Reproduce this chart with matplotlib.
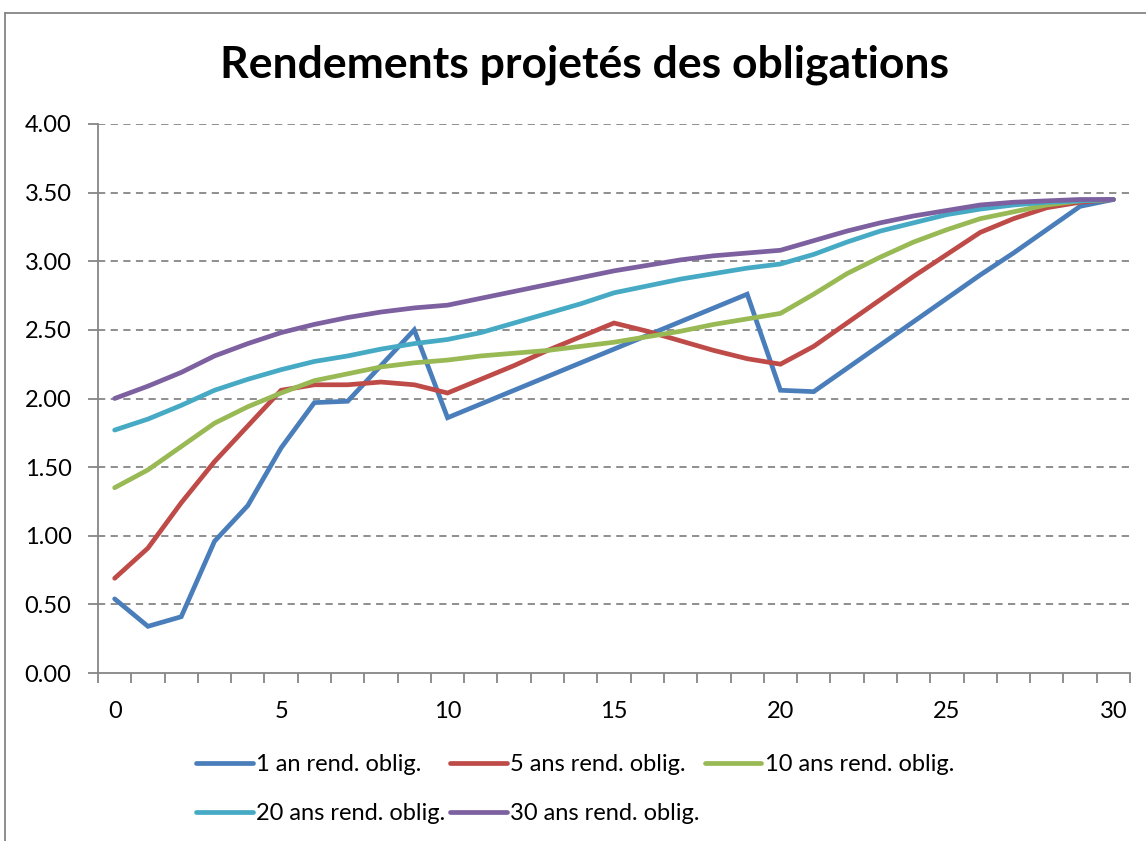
import matplotlib
matplotlib.use("Agg")
import matplotlib.pyplot as plt
from matplotlib.lines import Line2D
import numpy as np

plt.rcParams['font.family'] = ['Lato', 'DejaVu Sans']

years = list(range(31))
y1 = [0.54, 0.34, 0.41, 0.96, 1.22, 1.64, 1.97, 1.98, 2.24, 2.50, 1.86,
      1.96, 2.06, 2.16, 2.26, 2.36, 2.46, 2.56, 2.66, 2.76, 2.06,
      2.05, 2.22, 2.39, 2.56, 2.73, 2.90, 3.06, 3.23, 3.40, 3.45]
y5 = [0.69, 0.91, 1.24, 1.54, 1.80, 2.06, 2.10, 2.10, 2.12, 2.10, 2.04,
      2.14, 2.24, 2.35, 2.45, 2.55, 2.49, 2.42, 2.35, 2.29, 2.25,
      2.38, 2.55, 2.72, 2.89, 3.05, 3.21, 3.31, 3.39, 3.43, 3.45]
y10 = [1.35, 1.48, 1.65, 1.82, 1.94, 2.04, 2.13, 2.18, 2.23, 2.26, 2.28,
       2.31, 2.33, 2.35, 2.38, 2.41, 2.45, 2.49, 2.54, 2.58, 2.62,
       2.76, 2.91, 3.03, 3.14, 3.23, 3.31, 3.36, 3.41, 3.44, 3.45]
y20 = [1.77, 1.85, 1.95, 2.06, 2.14, 2.21, 2.27, 2.31, 2.36, 2.40, 2.43,
       2.48, 2.55, 2.62, 2.69, 2.77, 2.82, 2.87, 2.91, 2.95, 2.98,
       3.05, 3.14, 3.22, 3.28, 3.34, 3.38, 3.41, 3.43, 3.44, 3.45]
y30 = [2.00, 2.09, 2.19, 2.31, 2.40, 2.48, 2.54, 2.59, 2.63, 2.66, 2.68,
       2.73, 2.78, 2.83, 2.88, 2.93, 2.97, 3.01, 3.04, 3.06, 3.08,
       3.15, 3.22, 3.28, 3.33, 3.37, 3.41, 3.43, 3.44, 3.45, 3.45]

labels = ['1 an rend. oblig.', '5 ans rend. oblig.', '10 ans rend. oblig.',
          '20 ans rend. oblig.', '30 ans rend. oblig.']
colors = ['#4A7EBB', '#BE4B48', '#98B954', '#46AAC5', '#7D60A0']
series = [y1, y5, y10, y20, y30]
yticks = [0.0, 0.5, 1.0, 1.5, 2.0, 2.5, 3.0, 3.5, 4.0]
xticks = [0, 5, 10, 15, 20, 25, 30]
title = 'Rendements projetés des obligations'

W, H = 1146, 841
fig = plt.figure(figsize=(W/100, H/100), dpi=100)
ax = fig.add_axes([98/W, 1-673/H, (1130-98)/W, (673-124)/H])

handles = []
for ys, c, lab in zip(series, colors, labels):
    h, = ax.plot(years, ys, color=c, lw=3.4, solid_capstyle='round',
                 solid_joinstyle='miter', label=lab, zorder=3)
    handles.append(h)

grey = '#868686'
ax.set_xlim(-0.5, 30.5)
ax.set_ylim(0, 4)
ax.set_yticks(yticks)
ax.set_yticklabels([f'{v:.2f}' for v in yticks])
for v in yticks[1:]:
    ax.axhline(v, color=grey, lw=1.3, ls=(0, (4, 3)), zorder=1)
ax.set_xticks(xticks)
ax.set_xticks(np.arange(-0.5, 31, 1.0), minor=True)
ax.tick_params(axis='x', which='major', length=0, pad=20, labelsize=17)
ax.tick_params(axis='x', which='minor', length=7, width=1.3, color=grey, direction='out')
ax.tick_params(axis='y', which='major', length=7, width=1.3, color=grey, direction='out',
               labelsize=17, pad=12)
for s in ['top', 'right']:
    ax.spines[s].set_visible(False)
for s in ['left', 'bottom']:
    ax.spines[s].set_color(grey)
    ax.spines[s].set_linewidth(1.3)

fig.text(584/W, 1-65/H, title, ha='center', va='center', fontsize=32, fontweight='bold')

order = [0, 3, 1, 4, 2]
leg = fig.legend([handles[i] for i in order], [labels[i] for i in order],
                 ncol=3, loc='upper left', bbox_to_anchor=(196/W, 1-754/H),
                 frameon=False, fontsize=17, handlelength=2.4, handletextpad=0.15,
                 columnspacing=0.2, labelspacing=1.2, borderaxespad=0, borderpad=0)

# chart frame
fig.add_artist(Line2D([5/W, 1], [1-13/H, 1-13/H], color=grey, lw=1.3, transform=fig.transFigure))
fig.add_artist(Line2D([5/W, 5/W], [1-13/H, 0], color=grey, lw=1.3, transform=fig.transFigure))

fig.savefig('out.png', dpi=100)
